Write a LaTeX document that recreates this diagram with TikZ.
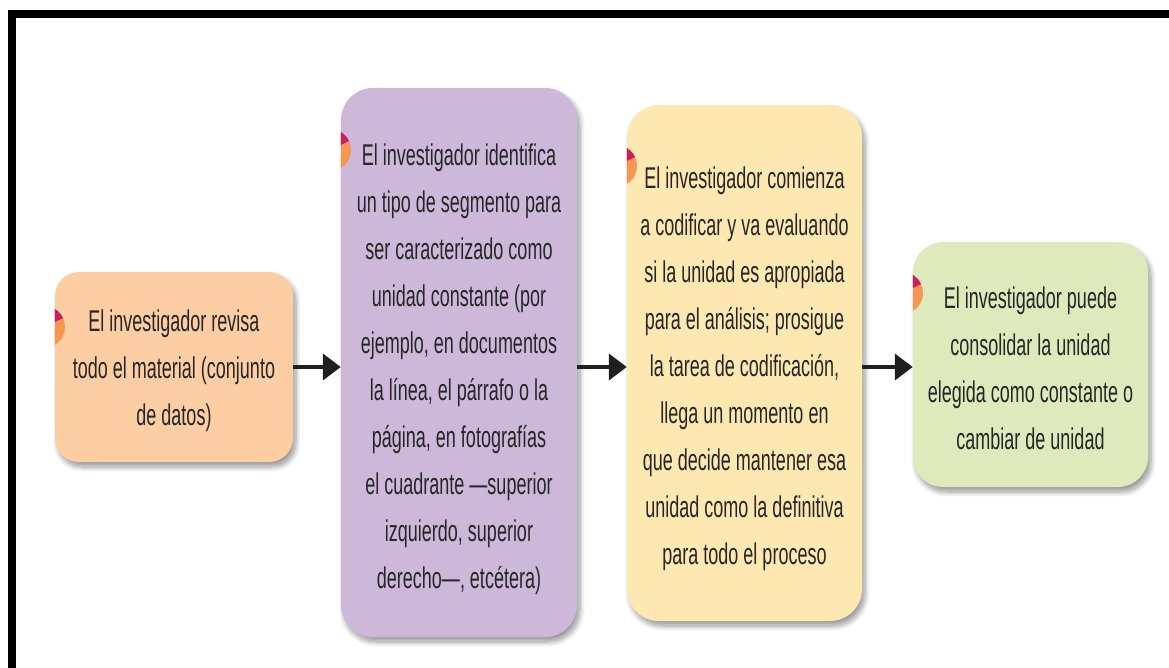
\documentclass[tikz,border=0pt]{standalone}
\usepackage{fontspec}
\setmainfont{Liberation Sans}[FakeStretch=0.6]
\usetikzlibrary{arrows.meta,shadows.blur}
\definecolor{orangebox}{RGB}{253,206,164}
\definecolor{purplebox}{RGB}{205,184,218}
\definecolor{yellowbox}{RGB}{254,232,178}
\definecolor{greenbox}{RGB}{222,234,188}
\definecolor{iconmag}{RGB}{200,30,100}
\definecolor{iconorange}{RGB}{247,150,80}
\definecolor{textcol}{RGB}{38,38,38}
\begin{document}
\begin{tikzpicture}[x=1pt,y=-1pt,
  stepbox/.style={rounded corners=#1, inner sep=0pt, draw=none,
    blur shadow={shadow xshift=3pt, shadow yshift=-5pt, shadow blur steps=10, shadow blur radius=5pt, shadow opacity=40}},
  txt/.style={align=center, inner sep=0pt, text=textcol, font=\fontsize{30}{47}\selectfont},
  arr/.style={-{Triangle[length=18pt,width=26pt]}, line width=4pt, draw=black!88}
]
\useasboundingbox (0,0) rectangle (1169,668);
\fill[black] (8,10) rectangle (1169,18);
\fill[black] (8,10) rectangle (16,668);

\node[stepbox=24pt, fill=orangebox, minimum width=238pt, minimum height=190pt] (b1) at (174,367) {};
\node[stepbox=32pt, fill=purplebox, minimum width=236pt, minimum height=549pt] (b2) at (459,362.5) {};
\node[stepbox=32pt, fill=yellowbox, minimum width=235pt, minimum height=516pt] (b3) at (744.5,363) {};
\node[stepbox=30pt, fill=greenbox, minimum width=235pt, minimum height=245pt] (b4) at (1030.5,364.5) {};

% icons
\begin{scope}
\clip (b1.north west) rectangle (b1.south east);
\fill[iconorange] (44,327) circle (21);
\fill[iconmag] (44,327) -- ++(-90:21) arc[start angle=-90, end angle=-25, radius=21] -- cycle;
\end{scope}
\begin{scope}
\clip (b2.north west) rectangle (b2.south east);
\fill[iconorange] (330,150) circle (21);
\fill[iconmag] (330,150) -- ++(-90:21) arc[start angle=-90, end angle=-25, radius=21] -- cycle;
\end{scope}
\begin{scope}
\clip (b3.north west) rectangle (b3.south east);
\fill[iconorange] (616,166) circle (21);
\fill[iconmag] (616,166) -- ++(-90:21) arc[start angle=-90, end angle=-25, radius=21] -- cycle;
\end{scope}
\begin{scope}
\clip (b4.north west) rectangle (b4.south east);
\fill[iconorange] (902,293) circle (21);
\fill[iconmag] (902,293) -- ++(-90:21) arc[start angle=-90, end angle=-25, radius=21] -- cycle;
\end{scope}

\node[txt] (t1) at (174,370.5) {El investigador revisa\\todo el material (conjunto\\de datos)};
\node[txt] (t2) at (459,369.5) {El investigador identifica\\un tipo de segmento para\\ser caracterizado como\\unidad constante (por\\ejemplo, en documentos\\la línea, el párrafo o la\\página, en fotografías\\el cuadrante —superior\\izquierdo, superior\\derecho—, etcétera)};
\node[txt] (t3) at (744.5,368.5) {El investigador comienza\\a codificar y va evaluando\\si la unidad es apropiada\\para el análisis; prosigue\\la tarea de codificación,\\llega un momento en\\que decide mantener esa\\unidad como la definitiva\\para todo el proceso};
\node[txt] (t4) at (1030.5,368.5) {El investigador puede\\consolidar la unidad\\elegida como constante o\\cambiar de unidad};

\draw[arr] (b1.east) -- (b1.east -| b2.west);
\draw[arr] (b2.east |- b1.east) -- (b3.west |- b1.east);
\draw[arr] (b3.east |- b1.east) -- (b4.west |- b1.east);
\end{tikzpicture}
\end{document}
